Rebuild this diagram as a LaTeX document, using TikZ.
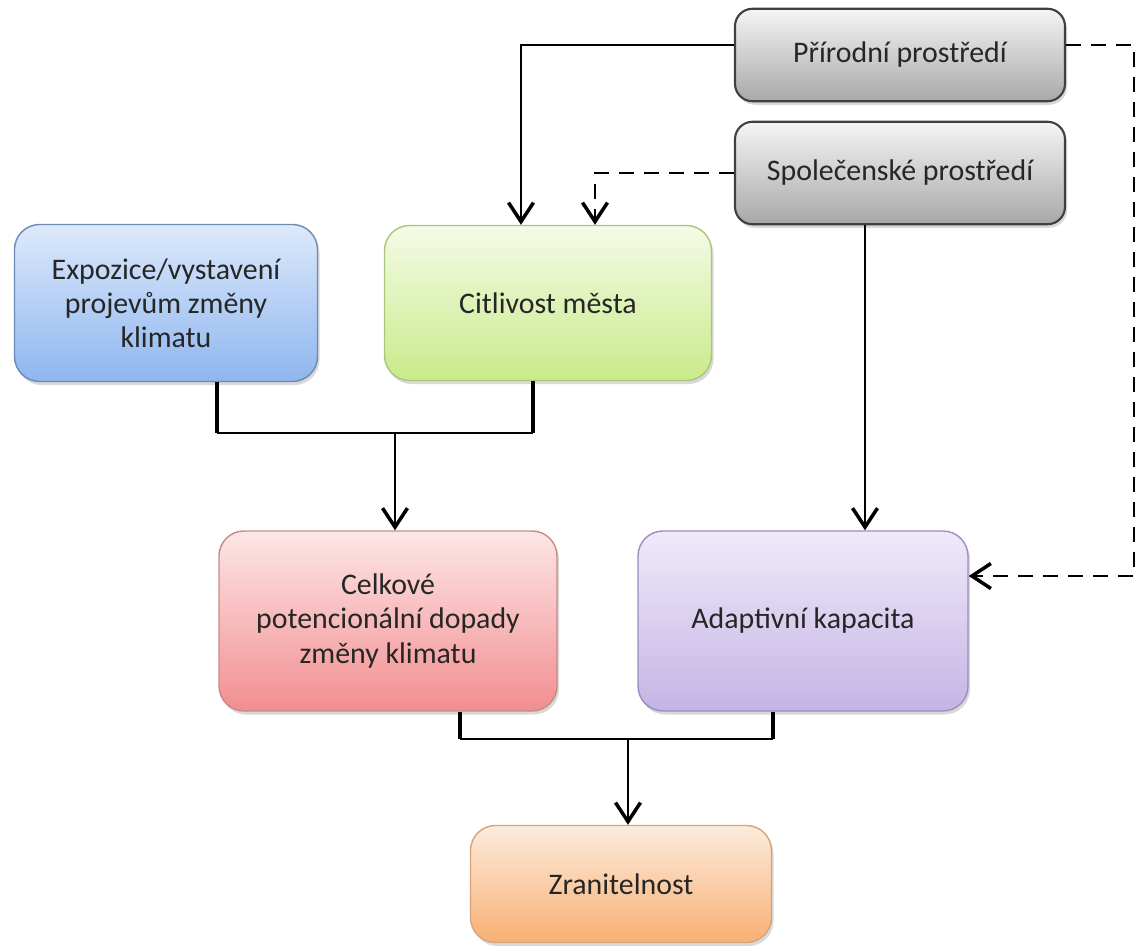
\documentclass[tikz,border=0pt]{standalone}
\usepackage{fontspec}
\setmainfont{Carlito}
\usepackage{xcolor}
\usepackage{tikz}
\usetikzlibrary{arrows.meta,shapes,positioning,calc,shadows}

\definecolor{expotop}{HTML}{DCE9FB}
\definecolor{expobot}{HTML}{8FB6EF}
\definecolor{expoline}{HTML}{6D8AB5}
\definecolor{citltop}{HTML}{F5FAE7}
\definecolor{citlbot}{HTML}{C8EB8A}
\definecolor{citlline}{HTML}{A9C77A}
\definecolor{celktop}{HTML}{FDE6E6}
\definecolor{celkbot}{HTML}{F28E90}
\definecolor{celkline}{HTML}{C9898A}
\definecolor{adaptop}{HTML}{EFEAFA}
\definecolor{adapbot}{HTML}{C5B4E4}
\definecolor{adapline}{HTML}{9D8CC0}
\definecolor{zrantop}{HTML}{FDEBDD}
\definecolor{zranbot}{HTML}{F8B073}
\definecolor{zranline}{HTML}{D5A47B}
\definecolor{envtop}{HTML}{F5F5F5}
\definecolor{envbot}{HTML}{A8A8A8}

\begin{document}
\begin{tikzpicture}[
    node distance=1.5cm,
    box/.style={rectangle, rounded corners=0.5cm, draw, line width=0.8pt, align=center,
        font=\fontsize{17}{19.5}\selectfont, text=black!85,
        drop shadow={opacity=0.3, shadow xshift=0.04cm, shadow yshift=-0.07cm}},
    envbox/.style={box, rounded corners=0.35cm, draw=black!75, line width=1.2pt,
        top color=envtop, bottom color=envbot, minimum width=6.6cm},
    arrow/.style={-{Straight Barb[length=3.8mm,width=5mm,line width=2pt]}, line width=0.9pt},
    dasharrow/.style={arrow, dash pattern=on 0.3cm off 0.2cm},
    stub/.style={line width=1.8pt},
    bar/.style={line width=1pt}
]
    \useasboundingbox (0,0) rectangle (22.8,-19.02);

    \node[box, draw=expoline, top color=expotop, bottom color=expobot,
        minimum width=6.06cm, minimum height=3.14cm] (expo) at (3.32,-6.06)
        {Expozice/vystavení\\projevům změny\\klimatu};
    \node[box, draw=citlline, top color=citltop, bottom color=citlbot,
        minimum width=6.54cm, minimum height=3.1cm, right of=expo, xshift=6.14cm] (citl)
        {Citlivost města};
    \node[box, draw=celkline, top color=celktop, bottom color=celkbot,
        minimum width=6.76cm, minimum height=3.6cm, below of=citl, xshift=-3.2cm, yshift=-4.86cm] (celk)
        {Celkové\\potencionální dopady\\změny klimatu};
    \node[box, draw=adapline, top color=adaptop, bottom color=adapbot,
        minimum width=6.6cm, minimum height=3.6cm, right of=celk, xshift=6.8cm] (adap)
        {Adaptivní kapacita};
    \node[box, draw=zranline, top color=zrantop, bottom color=zranbot,
        minimum width=6.02cm, minimum height=2.34cm, below of=celk, xshift=4.66cm, yshift=-3.76cm] (zran)
        {Zranitelnost};
    \node[envbox, minimum height=2.05cm, above of=adap, xshift=1.94cm, yshift=7.46cm] (spol)
        {Společenské prostředí};
    \node[envbox, minimum height=1.85cm, above of=spol, yshift=0.86cm] (prir)
        {Přírodní prostředí};

    % environment -> city
    \draw[arrow] ([yshift=0.2cm]prir.west) -| ([xshift=-0.54cm]citl.north);
    \draw[dasharrow] (spol.west) -| ([xshift=0.94cm]citl.north);
    \draw[dasharrow] ([yshift=0.2cm]prir.east) -- ++(1.36,0) |- ([yshift=0.9cm]adap.east);
    \draw[arrow] ([xshift=-0.7cm]spol.south) -- ([xshift=-0.7cm]spol.south |- adap.north);

    % exposure + sensitivity
    \coordinate (j1) at ($(expo.south -| celk.north)+(0.14,-1.02)$);
    \draw[stub] ([xshift=1.02cm]expo.south) -- ([xshift=1.02cm]expo.south |- j1);
    \draw[stub] ([xshift=-0.3cm]citl.south) -- ([xshift=-0.3cm]citl.south |- j1);
    \draw[bar] ([xshift=1.02cm]expo.south |- j1) -- ([xshift=-0.3cm]citl.south |- j1);
    \draw[arrow] (j1) -- (j1 |- celk.north);

    % impacts + capacity
    \coordinate (j2) at ($(celk.south -| zran.north)+(0.14,-0.54)$);
    \draw[stub] ([xshift=1.44cm]celk.south) -- ([xshift=1.44cm]celk.south |- j2);
    \draw[stub] ([xshift=-0.6cm]adap.south) -- ([xshift=-0.6cm]adap.south |- j2);
    \draw[bar] ([xshift=1.44cm]celk.south |- j2) -- ([xshift=-0.6cm]adap.south |- j2);
    \draw[arrow] (j2) -- (j2 |- zran.north);
\end{tikzpicture}
\end{document}
